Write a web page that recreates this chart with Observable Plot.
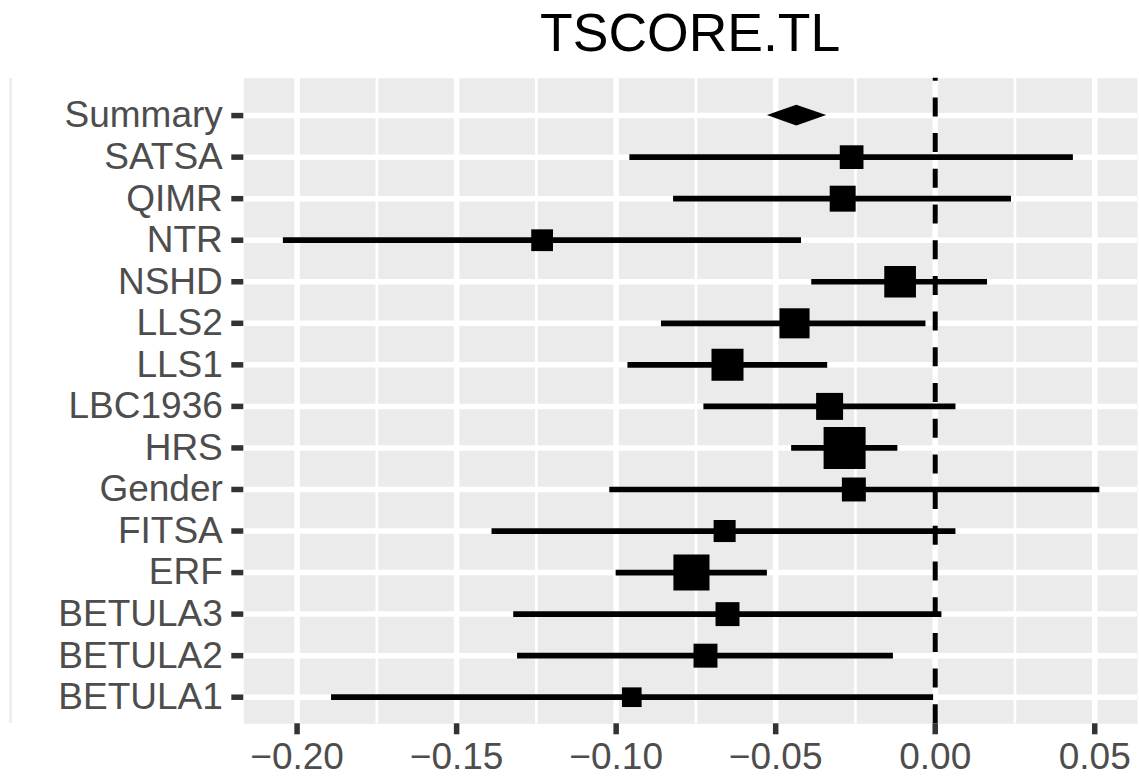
<!DOCTYPE html>
<html>
<head>
<meta charset="utf-8">
<script src="https://cdn.jsdelivr.net/npm/d3@7"></script>
<script src="https://cdn.jsdelivr.net/npm/@observablehq/plot@0.6"></script>
<style>
  html, body { margin: 0; padding: 0; background: #ffffff; }
  #wrap { position: relative; width: 1139px; height: 778px; overflow: hidden; font-family: "Liberation Sans", Arial, sans-serif; }
  #title { height: 66px; line-height: 66px; font-size: 53.5px; color: #000; text-align: center; width: 893.7px; margin-left: 243.3px; white-space: nowrap; }
  #edge { position: absolute; left: 9px; top: 78px; width: 3px; height: 645px; background: #eeeeee; }
</style>
</head>
<body>
<div id="wrap">
  <div id="edge"></div>
  <div id="title">TSCORE.TL</div>
  <div id="chart"></div>
</div>
<script>
// Study rows from bottom to top
const studies   = ["BETULA1","BETULA2","BETULA3","ERF","FITSA","Gender","HRS","LBC1936","LLS1","LLS2","NSHD","NTR","QIMR","SATSA"];
const estimates = [-0.0951,-0.0720,-0.0651,-0.0764,-0.0660,-0.0255,-0.0284,-0.0331,-0.0651,-0.0441,-0.0110,-0.1232,-0.0290,-0.0262];
const lowers    = [-0.1892,-0.1309,-0.1321,-0.1000,-0.1389,-0.1020,-0.0450,-0.0725,-0.0963,-0.0858,-0.0387,-0.2043,-0.0820,-0.0957];
const uppers    = [-0.0005,-0.0131, 0.0021,-0.0526, 0.0065, 0.0516,-0.0117, 0.0065,-0.0337,-0.0029, 0.0164,-0.0419, 0.0239, 0.0433];
const weights   = [3.5, 5.2, 5.2, 11.8, 4.4, 5.2, 16.0, 6.6, 9.3, 8.2, 9.1, 4.3, 6.1, 5.1];

const summaryLabel = "Summary";
const summaryEstimate = -0.0434;
const summaryLower = -0.0526;
const summaryUpper = -0.0340;

const xMajorTicks = [-0.20, -0.15, -0.10, -0.05, 0.00, 0.05];
const xMinorTicks = [-0.175, -0.125, -0.075, -0.025, 0.025];

const rowLabels = [...studies, summaryLabel];
const rowIndex = d3.range(rowLabels.length);
const studyData = studies.map((s, i) => ({study: s, row: i, est: estimates[i], lo: lowers[i], hi: uppers[i], w: weights[i]}));
const summaryRow = studies.length;
const diamondHalf = 0.25;
const diamond = [
  {x: summaryLower, y1: summaryRow, y2: summaryRow},
  {x: summaryEstimate, y1: summaryRow - diamondHalf, y2: summaryRow + diamondHalf},
  {x: summaryUpper, y1: summaryRow, y2: summaryRow}
];

const xDomain = [-0.2167, 0.0634];
const yDomain = [-0.64, 14.9];

const svgHeight = 712;
const chart = Plot.plot({
  width: 1139,
  height: svgHeight,
  marginTop: 11.7,
  marginBottom: 54.7,
  marginLeft: 243.3,
  marginRight: 2,
  style: {fontFamily: "'Liberation Sans', Arial, sans-serif", fontSize: "37px", background: "transparent", overflow: "visible"},
  x: {domain: xDomain},
  y: {domain: yDomain},
  r: {type: "sqrt", domain: [0, 16.0], range: [0, 23.7]},
  marks: [
    Plot.frame({fill: "#EBEBEB", stroke: "none"}),
    Plot.gridX(xMinorTicks, {stroke: "white", strokeOpacity: 1, strokeWidth: 2.6}),
    Plot.gridX(xMajorTicks, {stroke: "white", strokeOpacity: 1, strokeWidth: 5.5}),
    Plot.gridY(rowIndex, {stroke: "white", strokeOpacity: 1, strokeWidth: 5.5}),
    Plot.axisX(xMajorTicks, {tickFormat: d3.format(".2f"), tickSize: 11, tickPadding: 8, stroke: "#333333", fill: "#4D4D4D", color: "#4D4D4D", strokeWidth: 5.5, fontSize: 37, label: null}),
    Plot.axisY(rowIndex, {tickFormat: i => rowLabels[i], tickSize: 12, tickPadding: 9, stroke: "#333333", fill: "#4D4D4D", color: "#4D4D4D", strokeWidth: 5.5, fontSize: 37, label: null}),
    Plot.ruleY(studyData, {y: "row", x1: "lo", x2: "hi", stroke: "black", strokeWidth: 5.7}),
    Plot.ruleX([0], {y1: yDomain[0], y2: yDomain[1], stroke: "black", strokeWidth: 5, strokeDasharray: "19,16.7"}),
    Plot.dot(studyData, {x: "est", y: "row", r: "w", symbol: "square", fill: "black", stroke: "none"}),
    Plot.areaY(diamond, {x: "x", y1: "y1", y2: "y2", fill: "black"})
  ]
});
document.getElementById("chart").appendChild(chart);
</script>
</body>
</html>
